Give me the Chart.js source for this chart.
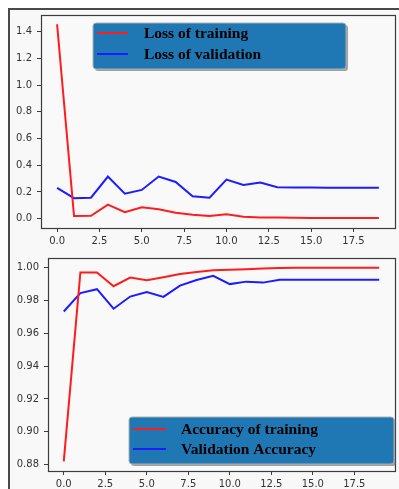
<!DOCTYPE html>
<html>
<head>
<meta charset="utf-8">
<script src="https://cdn.jsdelivr.net/npm/chart.js@4/dist/chart.umd.min.js"></script>
<style>
  html, body { margin: 0; padding: 0; background: #ffffff; }
  #frame {
    position: absolute; left: 8px; top: 8px; width: 391px; height: 481px;
    box-sizing: border-box; border-left: 2px solid #4a4a4a; border-top: 2px solid #4a4a4a;
    background: #f8f8f8;
  }
  canvas { position: absolute; left: 0; }
</style>
</head>
<body>
<div id="frame"></div>
<canvas id="lossChart" width="399" height="245" style="top:0"></canvas>
<canvas id="accChart" width="399" height="244" style="top:245px"></canvas>
<script>
// Training history, one value per epoch
const epochs = [0, 1, 2, 3, 4, 5, 6, 7, 8, 9, 10, 11, 12, 13, 14, 15, 16, 17, 18, 19];
const trainLoss = [1.456, 0.020, 0.022, 0.105, 0.048, 0.085, 0.070, 0.045, 0.030, 0.020,
                   0.033, 0.015, 0.008, 0.008, 0.006, 0.005, 0.005, 0.005, 0.005, 0.005];
const valLoss = [0.230, 0.153, 0.157, 0.315, 0.187, 0.215, 0.315, 0.275, 0.168, 0.157,
                 0.292, 0.252, 0.270, 0.235, 0.233, 0.233, 0.232, 0.232, 0.232, 0.232];
const trainAcc = [0.8820, 0.9970, 0.9971, 0.9887, 0.9940, 0.9924, 0.9942, 0.9962, 0.9974, 0.9984,
                  0.9988, 0.9991, 0.9995, 0.9998, 1.0000, 1.0000, 1.0000, 1.0000, 1.0000, 1.0000];
const valAcc = [0.9733, 0.9845, 0.9869, 0.9750, 0.9824, 0.9851, 0.9822, 0.9891, 0.9925, 0.9950,
                0.9900, 0.9915, 0.9909, 0.9927, 0.9927, 0.9927, 0.9927, 0.9927, 0.9927, 0.9927];

// Tick labels
const epochTicks = ['0.0', '2.5', '5.0', '7.5', '10.0', '12.5', '15.0', '17.5'];
const lossTicks = ['0.0', '0.2', '0.4', '0.6', '0.8', '1.0', '1.2', '1.4'];
const accTicks = ['0.88', '0.90', '0.92', '0.94', '0.96', '0.98', '1.00'];

const points = (ys) => epochs.map((e, i) => ({ x: e, y: ys[i] }));
const fixedTicks = (labels) => (scale) => {
  scale.ticks = labels.map((t) => ({ value: parseFloat(t) }));
};

// Full rectangular frame around the plot area
const framePlugin = {
  id: 'frameBox',
  beforeDraw(chart) {
    const { ctx, chartArea: a } = chart;
    ctx.save();
    ctx.fillStyle = '#f9f9f9';
    ctx.fillRect(a.left, a.top, a.right - a.left, a.bottom - a.top);
    ctx.restore();
  },
  afterDraw(chart) {
    const { ctx, chartArea: a } = chart;
    ctx.save();
    ctx.strokeStyle = '#3c3c3c';
    ctx.lineWidth = 1.2;
    ctx.strokeRect(Math.round(a.left) + 0.5, Math.round(a.top) + 0.5,
                   Math.round(a.right - a.left), Math.round(a.bottom - a.top));
    ctx.restore();
  }
};

// Filled legend box drawn inside the plot
const boxLegendPlugin = {
  id: 'boxLegend',
  afterDraw(chart, args, opts) {
    const { ctx } = chart;
    const { x, y, w, h, lineX0, lineX1, textX, rowY } = opts;
    ctx.save();
    const rr = (ox, oy) => {
      ctx.beginPath();
      if (ctx.roundRect) ctx.roundRect(x + ox, y + oy, w, h, 3);
      else ctx.rect(x + ox, y + oy, w, h);
    };
    rr(2, 2);
    ctx.fillStyle = 'rgba(90,90,90,0.55)';
    ctx.fill();
    rr(0, 0);
    ctx.fillStyle = '#1f77b4';
    ctx.fill();
    ctx.strokeStyle = '#b0b0b0';
    ctx.lineWidth = 1;
    ctx.stroke();
    chart.data.datasets.forEach((ds, i) => {
      const ly = rowY[i];
      ctx.beginPath();
      ctx.moveTo(lineX0, ly);
      ctx.lineTo(lineX1, ly);
      ctx.strokeStyle = ds.borderColor;
      ctx.lineWidth = 2;
      ctx.stroke();
      ctx.fillStyle = '#000000';
      ctx.font = 'bold 15.5px "Liberation Serif", "Times New Roman", serif';
      ctx.textBaseline = 'middle';
      ctx.textAlign = 'left';
      ctx.fillText(ds.label, textX, ly + 1);
    });
    ctx.restore();
  }
};

function makeChart(id, sets, yMin, yMax, yTicks, layout, legendOpts) {
  const tickFont = { family: '"DejaVu Sans", sans-serif', size: 10 };
  return new Chart(document.getElementById(id), {
    type: 'line',
    data: {
      datasets: sets.map((s) => ({
        label: s.label,
        data: points(s.values),
        borderColor: s.color,
        borderWidth: 2,
        pointRadius: 0,
        tension: 0,
        fill: false
      }))
    },
    options: {
      responsive: false,
      animation: false,
      devicePixelRatio: 1,
      layout: { padding: { left: 0, top: layout.top, right: layout.right, bottom: 0 } },
      plugins: { legend: { display: false }, tooltip: { enabled: false }, boxLegend: legendOpts },
      scales: {
        x: {
          type: 'linear', min: -0.95, max: 19.95,
          afterBuildTicks: fixedTicks(epochTicks),
          afterFit: (s) => { s.height = layout.xh; },
          grid: { drawOnChartArea: false, drawTicks: true, tickLength: 4, tickColor: '#3c3c3c', tickWidth: 1 },
          border: { display: false },
          ticks: {
            autoSkip: false, maxRotation: 0, padding: layout.xpad,
            color: '#333333', font: tickFont,
            callback: (v, i) => epochTicks[i]
          }
        },
        y: {
          type: 'linear', min: yMin, max: yMax,
          afterBuildTicks: fixedTicks(yTicks),
          afterFit: (s) => { s.width = layout.yw; },
          grid: { drawOnChartArea: false, drawTicks: true, tickLength: 4, tickColor: '#3c3c3c', tickWidth: 1 },
          border: { display: false },
          ticks: {
            autoSkip: false, padding: layout.ypad,
            color: '#333333', font: tickFont,
            callback: (v, i) => yTicks[i]
          }
        }
      }
    },
    plugins: [framePlugin, boxLegendPlugin]
  });
}

makeChart('lossChart',
  [
    { label: 'Loss of training', values: trainLoss, color: '#ff1c1c' },
    { label: 'Loss of validation', values: valLoss, color: '#1c1cff' }
  ],
  -0.07, 1.525, lossTicks,
  { top: 15, right: 4, xh: 17, yw: 41, xpad: 3, ypad: 5 },
  { x: 93, y: 23, w: 253, h: 46, lineX0: 97, lineX1: 128, textX: 144, rowY: [33, 54] }
);

makeChart('accChart',
  [
    { label: 'Accuracy of training', values: trainAcc, color: '#ff1c1c' },
    { label: 'Validation Accuracy', values: valAcc, color: '#1c1cff' }
  ],
  0.8761, 1.0059, accTicks,
  { top: 13, right: 4, xh: 18, yw: 48, xpad: 3, ypad: 5 },
  { x: 129, y: 172, w: 265, h: 47, lineX0: 133, lineX1: 166, textX: 181, rowY: [184, 204] }
);
</script>
</body>
</html>
